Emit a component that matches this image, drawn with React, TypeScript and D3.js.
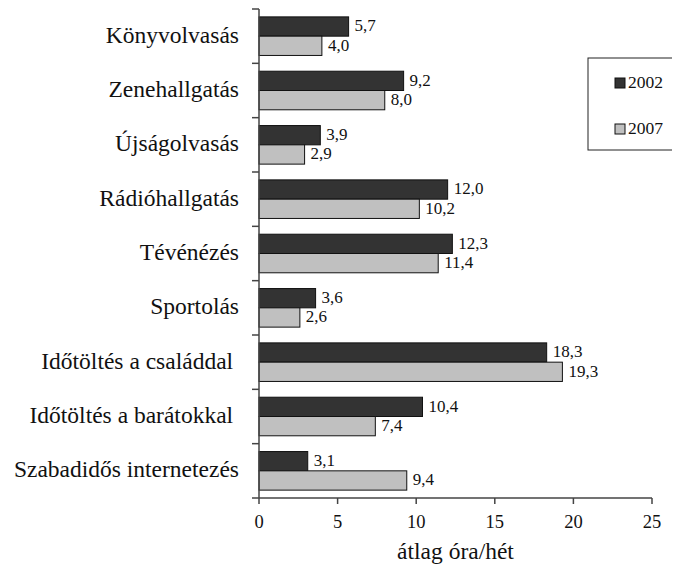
import React, { useEffect, useRef } from 'react';
import * as d3 from 'd3';

const categories = [
  'Könyvolvasás',
  'Zenehallgatás',
  'Újságolvasás',
  'Rádióhallgatás',
  'Tévénézés',
  'Sportolás',
  'Időtöltés a családdal ',
  'Időtöltés a barátokkal ',
  'Szabadidős internetezés',
];
const values2002 = [5.7, 9.2, 3.9, 12.0, 12.3, 3.6, 18.3, 10.4, 3.1];
const values2007 = [4.0, 8.0, 2.9, 10.2, 11.4, 2.6, 19.3, 7.4, 9.4];
const seriesNames = ['2002', '2007'];
const seriesColors = ['#333333', '#c0c0c0'];
const xTicks = [0, 5, 10, 15, 20, 25];

const fmt = (v: number) => v.toFixed(1).replace('.', ',');

export default function App() {
  const svgRef = useRef<SVGSVGElement>(null);

  useEffect(() => {
    if (!svgRef.current) return;
    const width = 680;
    const height = 572;
    const left = 259;
    const right = 652;
    const top = 9;
    const bottom = 498;
    const font = "'Liberation Serif', 'DejaVu Serif', 'Times New Roman', serif";

    const svg = d3.select(svgRef.current)
      .attr('viewBox', `0 0 ${width} ${height}`)
      .style('font-family', font)
      .html('');

    const x = d3.scaleLinear().domain([0, 25]).range([left, right]);
    const y = d3.scaleBand<string>().domain(categories).range([top, bottom])
      .paddingInner(0.29).paddingOuter(0.145);
    const sub = d3.scaleBand<string>().domain(seriesNames).range([0, y.bandwidth()]);

    const data = categories.map((c, i) => ({ c, vals: [values2002[i], values2007[i]] }));

    const groups = svg.append('g').selectAll('g')
      .data(data).enter().append('g')
      .attr('transform', d => `translate(0,${y(d.c)})`);

    seriesNames.forEach((s, si) => {
      groups.append('rect')
        .attr('x', x(0))
        .attr('y', sub(s)!)
        .attr('width', d => x(d.vals[si]) - x(0))
        .attr('height', sub.bandwidth())
        .attr('fill', seriesColors[si])
        .attr('stroke', '#111')
        .attr('stroke-width', 1);
      groups.append('text')
        .attr('x', d => x(d.vals[si]) + 6)
        .attr('y', sub(s)! + sub.bandwidth() / 2 + 1)
        .attr('dominant-baseline', 'middle')
        .style('font-size', '17px')
        .attr('fill', '#111')
        .text(d => fmt(d.vals[si]));
    });

    // y axis
    const axisColor = '#444';
    svg.append('line')
      .attr('x1', left).attr('x2', left).attr('y1', top).attr('y2', bottom)
      .attr('stroke', axisColor).attr('stroke-width', 1.5);
    const step = (bottom - top) / categories.length;
    d3.range(categories.length + 1).forEach(i => {
      svg.append('line')
        .attr('x1', left - 7).attr('x2', left)
        .attr('y1', top + i * step).attr('y2', top + i * step)
        .attr('stroke', axisColor).attr('stroke-width', 1.5);
    });
    svg.append('g').selectAll('text')
      .data(categories).enter().append('text')
      .attr('x', 239)
      .attr('y', d => y(d)! + y.bandwidth() / 2 + 1)
      .attr('text-anchor', 'end')
      .attr('dominant-baseline', 'middle')
      .style('font-size', '23.5px')
      .attr('fill', '#111')
      .style('white-space', 'pre')
      .text(d => d);

    // x axis
    svg.append('line')
      .attr('x1', left).attr('x2', right).attr('y1', bottom).attr('y2', bottom)
      .attr('stroke', axisColor).attr('stroke-width', 1.5);
    xTicks.forEach(t => {
      svg.append('line')
        .attr('x1', x(t)).attr('x2', x(t)).attr('y1', bottom).attr('y2', bottom + 6)
        .attr('stroke', axisColor).attr('stroke-width', 1.5);
      svg.append('text')
        .attr('x', x(t)).attr('y', 528)
        .attr('text-anchor', 'middle')
        .style('font-size', '18.5px')
        .attr('fill', '#111')
        .text(String(t));
    });
    svg.append('text')
      .attr('x', (left + right) / 2).attr('y', 559)
      .attr('text-anchor', 'middle')
      .style('font-size', '23.5px')
      .attr('fill', '#111')
      .text('átlag óra/hét');

    // legend
    svg.append('rect')
      .attr('x', 588).attr('y', 58).attr('width', 100).attr('height', 92)
      .attr('fill', '#fff').attr('stroke', '#222').attr('stroke-width', 1);
    seriesNames.forEach((s, i) => {
      const ly = 78 + i * 46;
      svg.append('rect')
        .attr('x', 615).attr('y', ly).attr('width', 10).attr('height', 10)
        .attr('fill', seriesColors[i]).attr('stroke', '#111').attr('stroke-width', 1);
      svg.append('text')
        .attr('x', 628).attr('y', ly + 10)
        .style('font-size', '17.5px')
        .attr('fill', '#111')
        .text(s);
    });
  }, []);

  return (
    <div style={{ width: 680, height: 572, margin: -8 }}>
      <svg ref={svgRef} width={680} height={572} style={{ display: 'block' }} />
    </div>
  );
}
